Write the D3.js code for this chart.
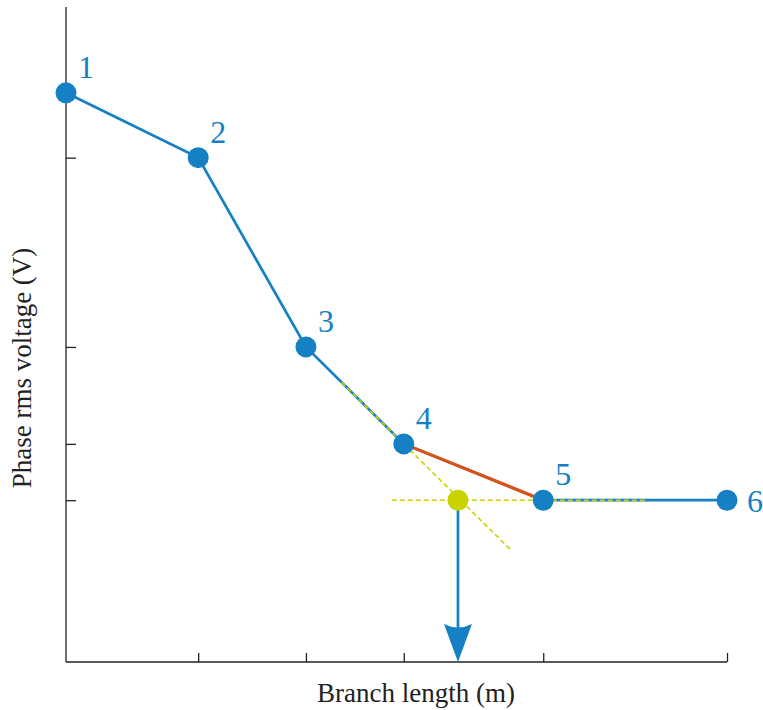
<!DOCTYPE html>
<html>
<head>
<meta charset="utf-8">
<script src="https://cdn.jsdelivr.net/npm/d3@7"></script>
<style>
  html, body { margin: 0; padding: 0; background: #fff; }
  svg { display: block; }
  svg text { font-family: "Times New Roman", Times, "Liberation Serif", "DejaVu Serif", serif; }
</style>
</head>
<body>
<svg id="chart" width="763" height="710"></svg>
<script>
// Node positions along the branch (m) and their phase rms voltage (V)
const nodeLabels = ["1", "2", "3", "4", "5", "6"];
const branchLength = [0, 20, 36.3, 51.1, 72.2, 100];
const phaseVoltage = [86.9, 77.0, 48.1, 33.3, 24.7, 24.7];

// Knee point where the extended 3–4 slope meets the flat 5–6 level
const kneeLength = [59.3];
const kneeVoltage = [24.7];

// Guide lines: extension of segment 3–4 and the horizontal 5–6 level
const slopeGuideLength = [41.7, 67.5];
const levelGuideLength = [49.3, 87.6];

const xTicks = [20, 36.3, 51.1, 72.2, 100];
const yTicks = [77.0, 48.1, 33.3, 24.7];

const blue = "#1580c3", orange = "#d95319", yellow = "#c9d300";

const svg = d3.select("#chart");
const x = d3.scaleLinear().domain([0, 100]).range([66, 727]);
const y = d3.scaleLinear().domain([0, 100]).range([662, 7]);

const nodes = branchLength.map((d, i) => ({ x: d, y: phaseVoltage[i], label: nodeLabels[i] }));

// Axes with inward ticks and no tick labels
const xAxis = svg.append("g").attr("transform", `translate(0,${y(0)})`)
  .call(d3.axisTop(x).tickValues(xTicks).tickSize(9).tickFormat(""));
const yAxis = svg.append("g").attr("transform", `translate(${x(0)},0)`)
  .call(d3.axisRight(y).tickValues(yTicks).tickSize(10).tickFormat(""));
[xAxis, yAxis].forEach(g => {
  g.selectAll("path").attr("stroke", "#222").attr("stroke-width", 1.3);
  g.selectAll("line").attr("stroke", "#222").attr("stroke-width", 1.3);
});
// full-length axis lines
xAxis.select("path").attr("d", `M${x(0)},0H${x(100)}`);
yAxis.select("path").attr("d", `M0,${y(0)}V${y(100)}`);

const line = d3.line().x(d => x(d.x)).y(d => y(d.y));

// Voltage profile
svg.append("path").datum(nodes).attr("d", line)
  .attr("fill", "none").attr("stroke", blue).attr("stroke-width", 2.7);

// Highlighted segment 4–5
svg.append("path").datum(nodes.slice(3, 5)).attr("d", line)
  .attr("fill", "none").attr("stroke", orange).attr("stroke-width", 3.1);

// Dashed construction lines
const slopeGuide = slopeGuideLength.map(v => {
  const a = nodes[2], b = nodes[3];
  return { x: v, y: a.y + (b.y - a.y) * (v - a.x) / (b.x - a.x) };
});
svg.append("path").datum(slopeGuide).attr("d", line)
  .attr("fill", "none").attr("stroke", yellow).attr("stroke-width", 1.6)
  .attr("stroke-dasharray", "5,3");
const levelGuide = levelGuideLength.map(v => ({ x: v, y: kneeVoltage[0] }));
svg.append("path").datum(levelGuide).attr("d", line)
  .attr("fill", "none").attr("stroke", yellow).attr("stroke-width", 1.6)
  .attr("stroke-dasharray", "5,3");

// Arrow from the knee down to the axis
const kx = x(kneeLength[0]), ky = y(kneeVoltage[0]), ay = y(0);
svg.append("line").attr("x1", kx).attr("x2", kx).attr("y1", ky).attr("y2", ay - 20)
  .attr("stroke", blue).attr("stroke-width", 2.7);
svg.append("path")
  .attr("d", `M${kx},${ay} L${kx - 14},${ay - 38} Q${kx},${ay - 31} ${kx + 14},${ay - 38} Z`)
  .attr("fill", blue);

// Knee marker
svg.append("circle").attr("cx", kx).attr("cy", ky).attr("r", 10.5).attr("fill", yellow);

// Node markers
svg.selectAll("circle.node").data(nodes).join("circle").attr("class", "node")
  .attr("cx", d => x(d.x)).attr("cy", d => y(d.y)).attr("r", 10.5).attr("fill", blue);

// Node labels
svg.selectAll("text.node").data(nodes).join("text").attr("class", "node")
  .attr("x", (d, i) => x(d.x) + (i === 5 ? 20 : 12))
  .attr("y", (d, i) => y(d.y) + (i === 5 ? 12 : -15))
  .attr("fill", blue).attr("font-size", 32)
  .text(d => d.label);

// Axis titles
svg.append("text").attr("x", 416).attr("y", 702).attr("text-anchor", "middle")
  .attr("font-size", 27).attr("fill", "#222").text("Branch length (m)");
svg.append("text").attr("transform", "translate(31,368) rotate(-90)")
  .attr("text-anchor", "middle")
  .attr("font-size", 27).attr("fill", "#222")
  .text("Phase rms voltage (V)");
</script>
</body>
</html>
